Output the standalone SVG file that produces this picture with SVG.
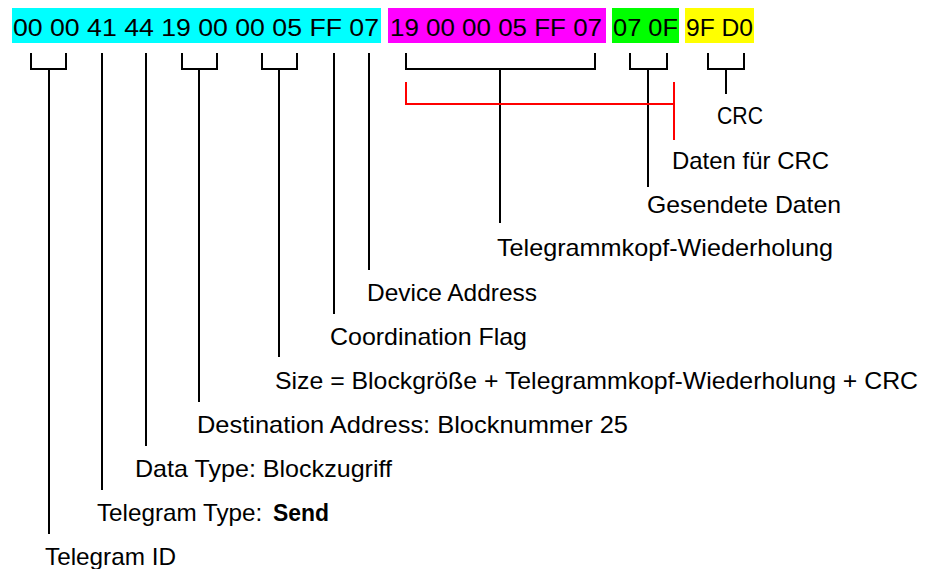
<svg xmlns="http://www.w3.org/2000/svg" width="926" height="569" viewBox="0 0 926 569">
<style>
text{font-family:"Liberation Sans",Arial,sans-serif;font-size:24px;fill:#000}
.hex{font-size:23px}
.c{fill:none;stroke:#000;stroke-width:2}
.r{fill:none;stroke:#ff0000;stroke-width:2}
</style>
<rect width="926" height="569" fill="#fff"/>
<g id="bytes">
  <g id="header">
    <rect x="12" y="8" width="369" height="35" fill="#00ffff"/>
    <text class="hex" x="13" y="36" textLength="366" lengthAdjust="spacingAndGlyphs">00 00 41 44 19 00 00 05 FF 07</text>
  </g>
  <g id="header-repeat">
    <rect x="388" y="8" width="218" height="35" fill="#ff00ff"/>
    <text class="hex" x="390" y="36" textLength="212" lengthAdjust="spacingAndGlyphs">19 00 00 05 FF 07</text>
  </g>
  <g id="data">
    <rect x="612" y="8" width="67" height="35" fill="#00ff00"/>
    <text class="hex" x="613" y="36" textLength="65" lengthAdjust="spacingAndGlyphs">07 0F</text>
  </g>
  <g id="crc">
    <rect x="685" y="8" width="69" height="35" fill="#ffff00"/>
    <text class="hex" x="686" y="36" textLength="67" lengthAdjust="spacingAndGlyphs">9F D0</text>
  </g>
</g>
<g id="connectors">
  <path class="c" d="M31 53V69H66V53M49 69V534"/>
  <path class="c" d="M102 53V490"/>
  <path class="c" d="M146 53V446"/>
  <path class="c" d="M182 53V69H217V53M199 69V402"/>
  <path class="c" d="M262 53V69H297V53M279 69V357"/>
  <path class="c" d="M334 53V314"/>
  <path class="c" d="M369 53V270"/>
  <path class="c" d="M406 53V69H595V53M500 69V223"/>
  <path class="c" d="M630 53V69H667V53M648 69V187"/>
  <path class="c" d="M708 53V69H744V53M726 69V94"/>
  <path class="r" d="M406 82V104H674M674 82V140"/>
</g>
<g id="label-crc"><text x="717" y="124" textLength="46" lengthAdjust="spacingAndGlyphs">CRC</text></g>
<g id="label-daten-crc"><text x="672" y="169" textLength="157" lengthAdjust="spacingAndGlyphs">Daten für CRC</text></g>
<g id="label-gesendete"><text x="647" y="213" textLength="194" lengthAdjust="spacingAndGlyphs">Gesendete Daten</text></g>
<g id="label-wiederholung"><text x="497" y="256" textLength="336" lengthAdjust="spacingAndGlyphs">Telegrammkopf-Wiederholung</text></g>
<g id="label-device"><text x="367" y="301" textLength="170" lengthAdjust="spacingAndGlyphs">Device Address</text></g>
<g id="label-coordination"><text x="330" y="345" textLength="197" lengthAdjust="spacingAndGlyphs">Coordination Flag</text></g>
<g id="label-size"><text x="275" y="389" textLength="643" lengthAdjust="spacingAndGlyphs">Size = Blockgröße + Telegrammkopf-Wiederholung + CRC</text></g>
<g id="label-destination"><text x="197" y="433" textLength="431" lengthAdjust="spacingAndGlyphs">Destination Address: Blocknummer 25</text></g>
<g id="label-datatype"><text x="135" y="477" textLength="257" lengthAdjust="spacingAndGlyphs">Data Type: Blockzugriff</text></g>
<g id="label-telegramtype"><text x="97" y="521"><tspan textLength="172" lengthAdjust="spacingAndGlyphs">Telegram Type: </tspan><tspan x="273" font-weight="bold" textLength="56" lengthAdjust="spacingAndGlyphs">Send</tspan></text></g>
<g id="label-telegramid"><text x="45" y="565" textLength="131" lengthAdjust="spacingAndGlyphs">Telegram ID</text></g>
</svg>
